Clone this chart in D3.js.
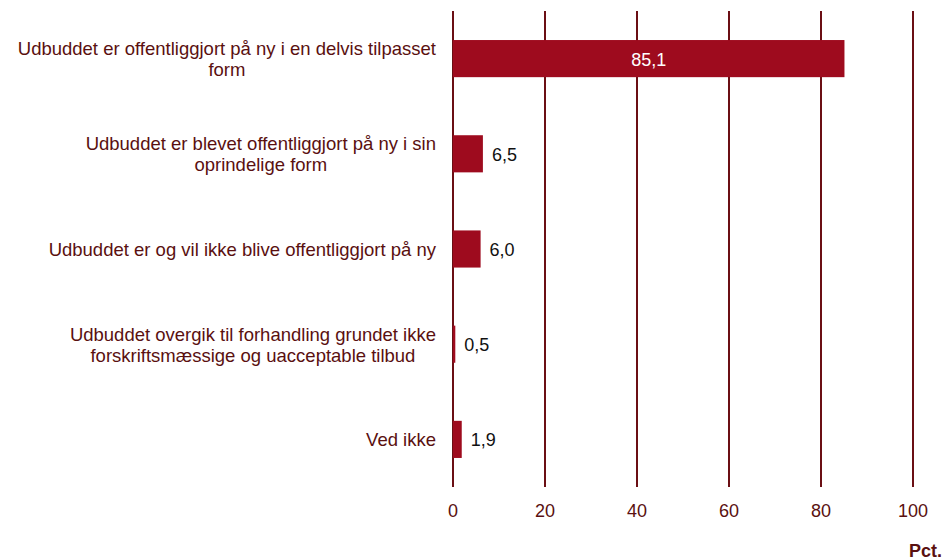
<!DOCTYPE html>
<html>
<head>
<meta charset="utf-8">
<script src="https://cdn.jsdelivr.net/npm/d3@7"></script>
<style>
  body { margin: 0; background: #fff; }
  text { font-family: "Liberation Sans", Arial, sans-serif; }
</style>
</head>
<body>
<script>
// data
const categories = [
  ['Udbuddet er offentliggjort på ny i en delvis tilpasset', 'form'],
  ['Udbuddet er blevet offentliggjort på ny i sin', 'oprindelige form'],
  ['Udbuddet er og vil ikke blive offentliggjort på ny'],
  ['Udbuddet overgik til forhandling grundet ikke', 'forskriftsmæssige og uacceptable tilbud'],
  ['Ved ikke']
];
const values = [85.1, 6.5, 6.0, 0.5, 1.9];
const ticks = [0, 20, 40, 60, 80, 100];

const width = 944;
const height = 560;
const barColor = '#9e0b1e';
const gridColor = '#6b0f14';
const textColor = '#5a1010';

const svg = d3.select('body').append('svg').attr('width', width).attr('height', height);

const x = d3.scaleLinear().domain([0, 100]).range([453, 913]);
const y = d3
  .scaleBand()
  .domain(d3.range(categories.length))
  .range([11, 487])
  .paddingInner(0.61)
  .paddingOuter(0.305);

// grid lines
svg
  .append('g')
  .selectAll('line')
  .data(ticks)
  .enter()
  .append('line')
  .attr('x1', (d) => x(d))
  .attr('x2', (d) => x(d))
  .attr('y1', 11)
  .attr('y2', 487)
  .attr('stroke', gridColor)
  .attr('stroke-width', 2);

// tick labels
svg
  .append('g')
  .selectAll('text')
  .data(ticks)
  .enter()
  .append('text')
  .text((d) => d)
  .attr('x', (d) => x(d))
  .attr('y', 517)
  .attr('fill', textColor)
  .attr('font-size', '18px')
  .attr('text-anchor', 'middle');

svg
  .append('text')
  .text('Pct.')
  .attr('x', 942)
  .attr('y', 557)
  .attr('fill', textColor)
  .attr('font-size', '18px')
  .attr('font-weight', 'bold')
  .attr('text-anchor', 'end');

// bars
svg
  .append('g')
  .selectAll('rect')
  .data(values)
  .enter()
  .append('rect')
  .attr('x', x(0))
  .attr('y', (d, i) => y(i))
  .attr('width', (d) => x(d) - x(0))
  .attr('height', y.bandwidth())
  .attr('fill', barColor);

// value labels
const fmt = (v) => v.toFixed(1).replace('.', ',');
svg
  .append('g')
  .selectAll('text')
  .data(values)
  .enter()
  .append('text')
  .text((d) => fmt(d))
  .attr('x', (d) => (d > 20 ? (x(0) + x(d)) / 2 : x(d) + 9))
  .attr('y', (d, i) => y(i) + y.bandwidth() / 2 + 7)
  .attr('fill', (d) => (d > 20 ? '#fff' : '#111'))
  .attr('font-size', '18px')
  .attr('text-anchor', (d) => (d > 20 ? 'middle' : 'start'));

// category labels: block right aligned, lines centred in block
const labelRight = 436;
const lineH = 21;
categories.forEach((lines, i) => {
  const g = svg.append('g');
  const cy = y(i) + y.bandwidth() / 2;
  const texts = lines.map((s, j) =>
    g
      .append('text')
      .text(s)
      .attr('y', cy + (j - (lines.length - 1) / 2) * lineH + 7)
      .attr('fill', textColor)
      .attr('font-size', '18.5px')
      .attr('text-anchor', 'middle')
  );
  const maxW = d3.max(texts, (t) => t.node().getComputedTextLength());
  texts.forEach((t) => t.attr('x', labelRight - maxW / 2));
});
</script>
</body>
</html>
